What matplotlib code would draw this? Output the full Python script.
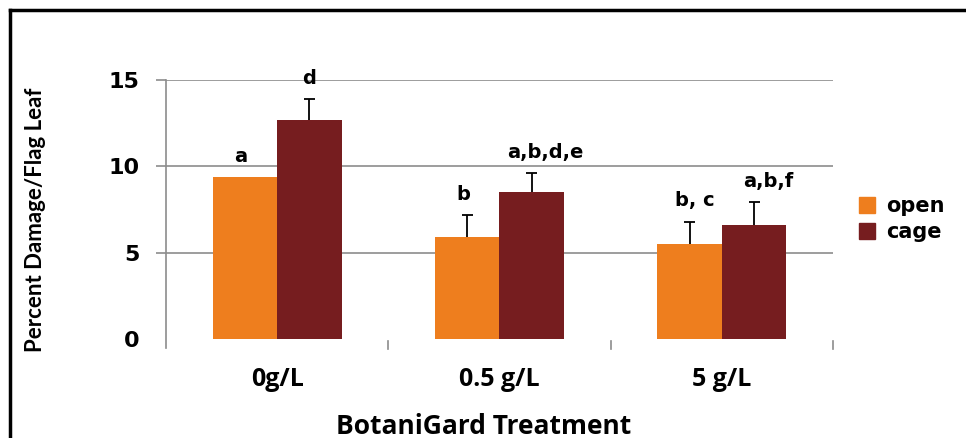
import numpy as np
import matplotlib
matplotlib.use("Agg")
import matplotlib.pyplot as plt
from matplotlib.lines import Line2D
from matplotlib.patches import Patch

# BotaniGard flag leaf damage, open vs caged plots
treatments = ["0g/L", "0.5 g/L", "5 g/L"]
open_mean = [9.4, 5.9, 5.5]
open_err = [0.0, 1.3, 1.3]
cage_mean = [12.7, 8.5, 6.6]
cage_err = [1.2, 1.1, 1.35]
open_sig = ["a", "b", "b, c"]
cage_sig = ["d", "a,b,d,e", "a,b,f"]

c_open = "#EE7E1E"
c_cage = "#761D1F"
grid_c = "#8c8c8c"

fig = plt.figure(figsize=(9.66, 4.38), dpi=100)
W, H = 966, 438
ax = fig.add_axes([166 / W, (H - 339) / H, (833 - 166) / W, (339 - 80) / H])

x = np.arange(len(treatments))
bw = 0.29
ax.bar(x - bw / 2, open_mean, bw, color=c_open, zorder=3)
ax.bar(x + bw / 2, cage_mean, bw, color=c_cage, zorder=3)

# upper-only error bars with a cap
cap = 0.025
for xs, m, e in [(x - bw / 2, open_mean, open_err), (x + bw / 2, cage_mean, cage_err)]:
    for xi, mi, ei in zip(xs, m, e):
        if ei <= 0:
            continue
        ax.vlines(xi, mi, mi + ei, color="black", lw=1.3, zorder=4)
        ax.hlines(mi + ei, xi - cap, xi + cap, color="black", lw=1.3, zorder=4)

lab = dict(ha="center", va="bottom", fontsize=14, fontweight="bold", family="DejaVu Sans",
           textcoords="offset points")
for i in range(len(x)):
    ax.annotate(open_sig[i], (x[i] - bw / 2, open_mean[i] + open_err[i]),
                xytext=(4 if i == 2 else -3, 8), **lab)
    ax.annotate(cage_sig[i], (x[i] + bw / 2, cage_mean[i] + cage_err[i]),
                xytext=(10 if i > 0 else 0, 8), **lab)

ax.set_xlim(-0.5, 2.5)
ax.set_ylim(0, 15)
ax.set_yticks([0, 5, 10, 15])
for yv in [5, 10, 15]:
    ax.axhline(yv, color=grid_c, lw=1.2, zorder=0)
for s in ["top", "right", "bottom"]:
    ax.spines[s].set_visible(False)
ax.spines["left"].set_color(grid_c)
ax.spines["left"].set_linewidth(1.2)
ax.spines["left"].set_bounds(-0.5, 15)
ax.tick_params(axis="y", length=7, color=grid_c, width=1.2, pad=12, labelsize=16)
ax.get_yticklines()[0].set_visible(False)
for t in ax.get_yticklabels():
    t.set_fontweight("bold")

ax.set_xticks(x)
ax.set_xticklabels(treatments, fontsize=18, fontweight="bold", family="Open Sans")
ax.tick_params(axis="x", length=0, pad=20)
# boundary ticks hanging under the bars
for xb in [0.5, 1.5, 2.5]:
    ax.plot([xb, xb], [-0.1, -0.6], color=grid_c, lw=1.2, clip_on=False)

ax.set_ylabel("Percent Damage/Flag Leaf", fontsize=16, fontweight="bold", family="Lato")
ax.yaxis.set_label_coords(-0.18, 0.46)
fig.text(484 / W, 1 - 426 / H, "BotaniGard Treatment", ha="center", va="center",
         fontsize=19, fontweight="bold", family="Open Sans")

handles = [Patch(color=c_open, label="open"), Patch(color=c_cage, label="cage")]
fig.legend(handles=handles, loc="center left", bbox_to_anchor=(840 / W, 1 - 219 / H),
           frameon=False, prop=dict(weight="bold", size=15), handlelength=0.8,
           handleheight=0.8, handletextpad=0.5, labelspacing=0.3)

# outer frame, only top and left edges fall inside the image
fig.add_artist(Line2D([10 / W, 10 / W], [0, 1 - 10 / H], color="black", lw=2.5))
fig.add_artist(Line2D([10 / W, 1], [1 - 10 / H, 1 - 10 / H], color="black", lw=2.5))

fig.savefig("out.png", dpi=100)
